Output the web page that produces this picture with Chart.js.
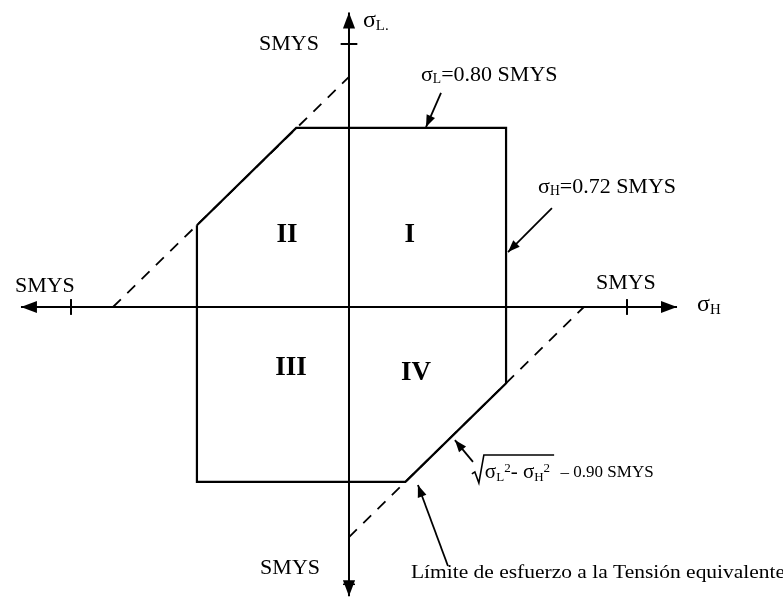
<!DOCTYPE html>
<html>
<head>
<meta charset="utf-8">
<script src="https://cdn.jsdelivr.net/npm/chart.js@4.4.1/dist/chart.umd.min.js"></script>
<style>
  html, body { margin: 0; padding: 0; background: #fff; }
  canvas { display: block; }
</style>
</head>
<body>
<canvas id="diagram" width="783" height="600"></canvas>
<script>
// Stress diagram sigma_H / sigma_L, all values in SMYS units

// allowable region (octagon), closed
const regionX = [-0.547, -0.19, 0.565, 0.565, 0.203, -0.547, -0.547];
const regionY = [0.311, 0.681, 0.681, -0.29, -0.665, -0.665, 0.311];

// equivalent stress limit lines (dashed)
const limitUpperX = [-0.849, 0];
const limitUpperY = [0, 0.875];
const limitLowerX = [0, 0.845];
const limitLowerY = [-0.875, 0];

// axis extents
const axisH = [-1.18, 1.18];
const axisV = [-1.10, 1.12];

// SMYS ticks
const ticksH = [-1, 1];
const ticksV = [1];

// leader arrows [fromX, fromY, toX, toY]
const leaders = [
    [0.331, 0.814, 0.277, 0.684],
    [0.730, 0.376, 0.572, 0.209],
    [0.356, -0.985, 0.248, -0.677],
    [0.446, -0.589, 0.381, -0.506]
];

// quadrant labels
const quadrantNames = ['I', 'II', 'III', 'IV'];
const quadrantPos = [[0.219, 0.274], [-0.223, 0.274], [-0.209, -0.232], [0.241, -0.251]];

// SMYS labels (top, left, right, bottom)
const smysPos = [[-0.108, 1.0], [-1.094, 0.080], [0.996, 0.091], [-0.212, -0.992]];

const toPoints = (xs, ys) => xs.map((x, i) => ({x: x, y: ys[i]}));

const lineSet = (data, extra) => Object.assign({
    data: data,
    showLine: true,
    borderColor: '#000',
    borderWidth: 2,
    pointRadius: 0,
    fill: false,
    tension: 0
}, extra || {});

const datasets = [];

// axes
datasets.push(lineSet([{x: 0, y: 0}, {x: axisH[1], y: 0}], {arrow: 16}));
datasets.push(lineSet([{x: 0, y: 0}, {x: axisH[0], y: 0}], {arrow: 16}));
datasets.push(lineSet([{x: 0, y: 0}, {x: 0, y: axisV[1]}], {arrow: 16}));
datasets.push(lineSet([{x: 0, y: 0}, {x: 0, y: axisV[0]}], {arrow: 16, bar: true}));

// ticks
ticksH.forEach(t => datasets.push(lineSet([{x: t, y: -0.03}, {x: t, y: 0.03}])));
ticksV.forEach(t => datasets.push(lineSet([{x: -0.03, y: t}, {x: 0.03, y: t}])));

// region
datasets.push(lineSet(toPoints(regionX, regionY), {borderWidth: 2.2}));

// limit lines
datasets.push(lineSet(toPoints(limitUpperX, limitUpperY), {borderDash: [11, 9], borderWidth: 1.8}));
datasets.push(lineSet(toPoints(limitLowerX, limitLowerY), {borderDash: [11, 9], borderWidth: 1.8}));

// leaders
leaders.forEach(l => datasets.push(lineSet([{x: l[0], y: l[1]}, {x: l[2], y: l[3]}], {borderWidth: 1.8, arrow: 12})));

const SERIF = '"Liberation Serif", "DejaVu Serif", serif';

// draw text made of [string, isSubscript, isSuperscript] parts
function drawRich(ctx, parts, x, y, size, align) {
    let total = 0;
    parts.forEach(p => {
        ctx.font = ((p[1] || p[2]) ? size * 0.62 : size) + 'px ' + SERIF;
        total += ctx.measureText(p[0]).width;
    });
    let cx = align === 'right' ? x - total : (align === 'center' ? x - total / 2 : x);
    ctx.textBaseline = 'middle';
    ctx.textAlign = 'left';
    const start = cx;
    parts.forEach(p => {
        const small = p[1] || p[2];
        ctx.font = (small ? size * 0.62 : size) + 'px ' + SERIF;
        let dy = 0;
        if (p[1]) dy = size * 0.22;
        if (p[2]) dy = -size * 0.22;
        ctx.fillText(p[0], cx, y + dy);
        cx += ctx.measureText(p[0]).width;
    });
    return [start, cx];
}

function arrowHead(ctx, x0, y0, x1, y1, len) {
    const a = Math.atan2(y1 - y0, x1 - x0);
    const w = len * 0.38;
    ctx.beginPath();
    ctx.moveTo(x1, y1);
    ctx.lineTo(x1 - len * Math.cos(a) + w * Math.sin(a), y1 - len * Math.sin(a) - w * Math.cos(a));
    ctx.lineTo(x1 - len * Math.cos(a) - w * Math.sin(a), y1 - len * Math.sin(a) + w * Math.cos(a));
    ctx.closePath();
    ctx.fill();
}

const annotations = {
    id: 'annotations',
    afterDatasetsDraw(chart) {
        const ctx = chart.ctx;
        const sx = chart.scales.x, sy = chart.scales.y;
        const px = v => sx.getPixelForValue(v);
        const py = v => sy.getPixelForValue(v);
        ctx.save();
        ctx.fillStyle = '#000';
        ctx.strokeStyle = '#000';

        // arrow heads
        chart.data.datasets.forEach((ds, i) => {
            if (!ds.arrow) return;
            const pts = chart.getDatasetMeta(i).data;
            const a = pts[pts.length - 2], b = pts[pts.length - 1];
            arrowHead(ctx, a.x, a.y, b.x, b.y, ds.arrow);
            if (ds.bar) {
                ctx.lineWidth = 1.5;
                ctx.beginPath();
                ctx.moveTo(b.x - 6, b.y - 12);
                ctx.lineTo(b.x + 6, b.y - 12);
                ctx.stroke();
            }
        });

        // SMYS labels
        drawRich(ctx, [['SMYS']], px(smysPos[0][0]), py(smysPos[0][1]), 22, 'right');
        for (let i = 1; i < smysPos.length; i++) {
            drawRich(ctx, [['SMYS']], px(smysPos[i][0]), py(smysPos[i][1]), 22, 'center');
        }

        // axis names
        drawRich(ctx, [['σ'], ['L', true], ['.', true]], px(0.05), py(1.09), 24, 'left');
        drawRich(ctx, [['σ'], ['H', true]], px(1.252), py(0.008), 24, 'left');

        // limits
        drawRich(ctx, [['σ'], ['L', true], ['=0.80 SMYS']], px(0.259), py(0.882), 22, 'left');
        drawRich(ctx, [['σ'], ['H', true], ['=0.72 SMYS']], px(0.680), py(0.456), 22, 'left');

        // quadrants
        ctx.font = 'bold 27px ' + SERIF;
        ctx.textAlign = 'center';
        ctx.textBaseline = 'middle';
        quadrantNames.forEach((q, i) => ctx.fillText(q, px(quadrantPos[i][0]), py(quadrantPos[i][1])));

        // equivalent stress formula
        const fx = px(0.442), fy = py(-0.631);
        const rad = drawRich(ctx, [['σ'], ['L', true], ['2', false, true], ['- σ'], ['H', true], ['2', false, true]], fx + 13, fy, 21, 'left');
        ctx.lineWidth = 1.6;
        ctx.beginPath();
        ctx.moveTo(fx, fy + 1);
        ctx.lineTo(fx + 3, fy - 1);
        ctx.lineTo(fx + 7, fy + 10);
        ctx.lineTo(fx + 12, fy - 18);
        ctx.lineTo(rad[1] + 4, fy - 18);
        ctx.stroke();
        drawRich(ctx, [['  \u2013 0.90 SMYS']], rad[1] + 2, fy, 17, 'left');

        // bottom note, slightly stretched like the scan
        ctx.save();
        ctx.translate(px(0.223), py(-1.011));
        ctx.scale(1.13, 1);
        drawRich(ctx, [['Límite de esfuerzo a la Tensión equivalente']], 0, 0, 19, 'left');
        ctx.restore();

        ctx.restore();
    }
};

new Chart(document.getElementById('diagram').getContext('2d'), {
    type: 'scatter',
    data: {datasets: datasets},
    options: {
        responsive: false,
        animation: false,
        layout: {padding: 0},
        plugins: {
            legend: {display: false},
            tooltip: {enabled: false}
        },
        scales: {
            x: {type: 'linear', min: -1.2554, max: 1.5612, display: false},
            y: {type: 'linear', min: -1.1141, max: 1.1673, display: false}
        }
    },
    plugins: [annotations]
});
</script>
</body>
</html>
